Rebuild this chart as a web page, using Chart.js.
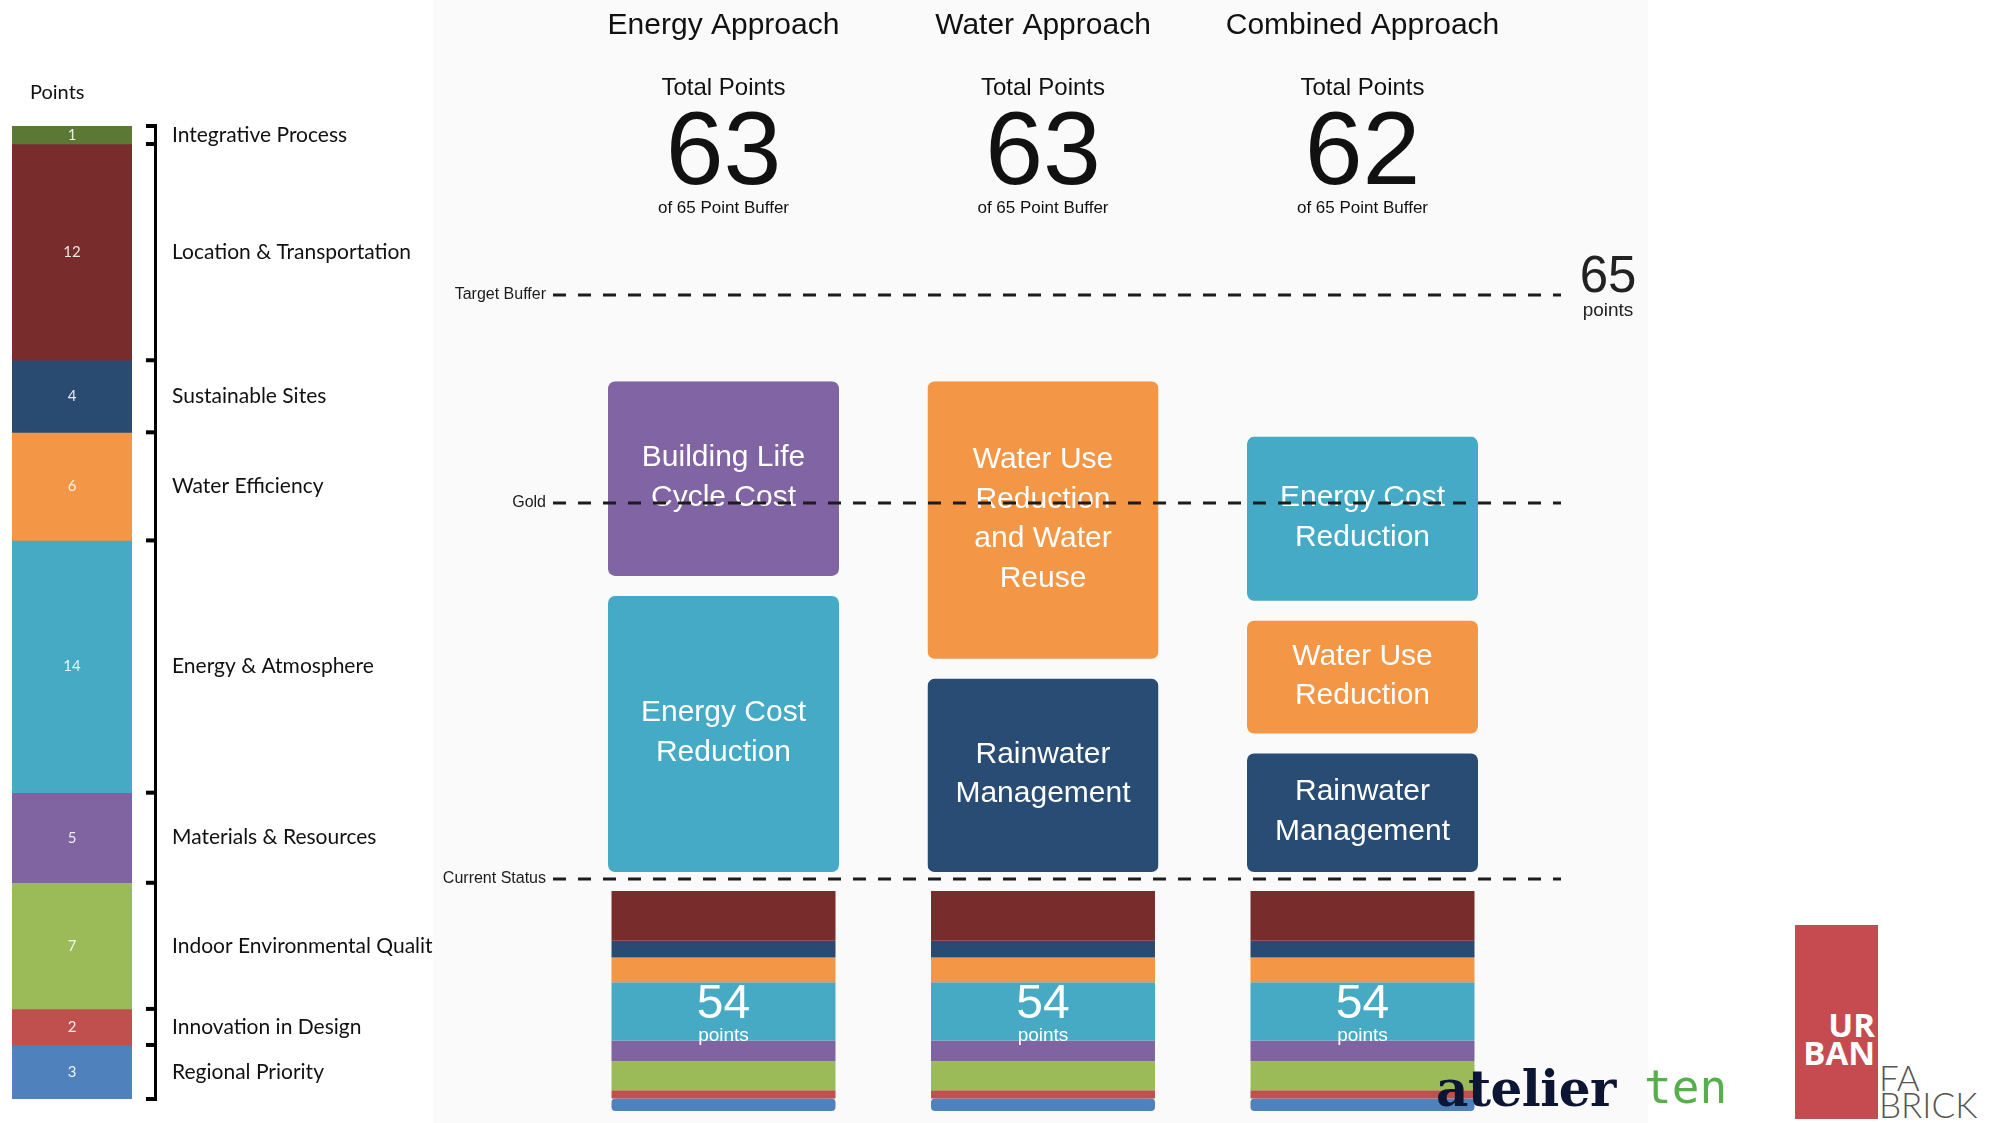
<!DOCTYPE html>
<html>
<head>
  <title>LEED Approaches</title>
  <script src="https://cdn.jsdelivr.net/npm/chart.js"></script>
  <style>
    body {
      margin: 0;
      width: 2003px;
      height: 1123px;
      background: #ffffff;
      position: relative;
      overflow: hidden;
      font-family: 'Liberation Sans', Arial, sans-serif;
    }
    .box { position: absolute; }
    #leftBox { left: 0; top: 0; width: 440px; height: 1123px; z-index: 1; }
    #panel { position: absolute; left: 433px; top: 0; width: 1215px; height: 1123px; background: #fafafa; z-index: 2; }
    #mainBox, #stackBox { left: 433px; top: 0; width: 1215px; height: 1123px; z-index: 3; }
    .logo { position: absolute; z-index: 5; white-space: nowrap; line-height: 1; }
    #atelier { left: 1436px; top: 1059px; font: bold 50px 'DejaVu Serif', serif; color: #0c1533; letter-spacing: -0.5px; }
    #ten { left: 1644px; top: 1060px; font: 46px 'DejaVu Sans Mono', monospace; color: #55b04c; letter-spacing: 0; }
    #urbanRect { left: 1795px; top: 925px; width: 83px; height: 194px; background: #c64b50; }
  </style>
</head>
<body>
  <div id="leftBox" class="box"><canvas id="leftChart"></canvas></div>
  <div id="panel"></div>
  <div id="mainBox" class="box"><canvas id="mainChart"></canvas></div>
  <div id="stackBox" class="box"><canvas id="stackChart"></canvas></div>

  <div id="atelier" class="logo">atelier</div>
  <div id="ten" class="logo">ten</div>
  <div id="urbanRect" class="logo"></div>
  <div class="logo" style="left:1795px; top:1002px; width:80px; text-align:right; font:bold 33px 'Open Sans', sans-serif; color:#fff;">UR</div>
  <div class="logo" style="left:1795px; top:1030px; width:80px; text-align:right; font:bold 33px 'Open Sans', sans-serif; color:#fff;">BAN</div>
  <div class="logo" style="left:1879px; top:1056px; font:300 35px Lato, sans-serif; color:#555;">FA</div>
  <div class="logo" style="left:1879px; top:1083px; font:300 35px Lato, sans-serif; color:#555;">BRICK</div>

  <script>
    // ---- data ----
    const categories = ['Integrative Process', 'Location & Transportation', 'Sustainable Sites',
      'Water Efficiency', 'Energy & Atmosphere', 'Materials & Resources',
      'Indoor Environmental Quality', 'Innovation in Design', 'Regional Priority'];
    const categoryPoints = [1, 12, 4, 6, 14, 5, 7, 2, 3];
    const categoryColors = ['#5b7934', '#782c2b', '#2a4b71', '#f39646', '#46aac5',
      '#8064a2', '#9bbb59', '#c0504d', '#4f81bd'];

    const approaches = ['Energy Approach', 'Water Approach', 'Combined Approach'];
    const totalPoints = [63, 63, 62];
    const bufferTarget = 65;
    const currentStatus = 54;

    // strategies stacked above current status, bottom to top
    const strategyNames = [
      ['Energy Cost\nReduction', 'Building Life\nCycle Cost'],
      ['Rainwater\nManagement', 'Water Use\nReduction\nand Water\nReuse'],
      ['Rainwater\nManagement', 'Water Use\nReduction', 'Energy Cost\nReduction']
    ];
    const strategyPoints = [
      [5.3, 3.7],
      [3.8, 5.2],
      [2.45, 2.4, 3.15]
    ];
    const strategyColors = [
      ['#44aac5', '#8064a3'],
      ['#284c73', '#f39646'],
      ['#284c73', '#f39646', '#44aac5']
    ];

    // dashed reference lines (positions as drawn in the schematic)
    const lineLabels = ['Target Buffer', 'Gold', 'Current Status'];
    const lineValues = [64.56, 60.8, 54];

    // ---- left stacked bar ----
    const leftPlugin = {
      id: 'leftLabels',
      afterDraw(chart) {
        const ctx = chart.ctx;
        ctx.save();
        ctx.fillStyle = '#111';
        ctx.font = '20px Lato, sans-serif';
        ctx.textBaseline = 'middle';
        ctx.textAlign = 'left';
        ctx.fillText('Points', 30, 93);

        const bounds = [];
        chart.data.datasets.forEach((ds, i) => {
          const el = chart.getDatasetMeta(i).data[0];
          const top = Math.min(el.y, el.base), bot = Math.max(el.y, el.base);
          const mid = (top + bot) / 2;
          if (i === 0) bounds.push(top);
          bounds.push(bot);
          ctx.fillStyle = 'rgba(255,255,255,0.88)';
          ctx.font = '15px Lato, sans-serif';
          ctx.textAlign = 'center';
          ctx.fillText(String(ds.data[0]), el.x, mid);
          ctx.fillStyle = '#111';
          ctx.font = '21px Lato, sans-serif';
          ctx.textAlign = 'left';
          ctx.fillText(ds.label, 172, mid);
        });

        // bracket
        ctx.strokeStyle = '#000';
        ctx.lineWidth = 3;
        ctx.beginPath();
        ctx.moveTo(155.5, bounds[0]);
        ctx.lineTo(155.5, bounds[bounds.length - 1]);
        ctx.stroke();
        ctx.lineWidth = 4;
        bounds.forEach(b => {
          ctx.beginPath();
          ctx.moveTo(146, b);
          ctx.lineTo(157, b);
          ctx.stroke();
        });
        ctx.restore();
      }
    };

    new Chart(document.getElementById('leftChart'), {
      type: 'bar',
      data: {
        labels: ['Points'],
        datasets: categories.map((c, i) => ({
          label: c,
          data: [categoryPoints[i]],
          backgroundColor: categoryColors[i],
          borderWidth: 0,
          barPercentage: 1,
          categoryPercentage: 1
        }))
      },
      options: {
        responsive: true,
        maintainAspectRatio: false,
        animation: false,
        layout: { padding: { left: 12, right: 308, top: 126, bottom: 24 } },
        plugins: { legend: { display: false }, tooltip: { enabled: false } },
        scales: {
          x: { stacked: true, display: false },
          y: { stacked: true, display: false, reverse: true, min: 0, max: 54 }
        }
      },
      plugins: [leftPlugin]
    });

    // ---- main schematic ----
    const PX_PER_PT = 55.3;
    const Y_MIN = 50, Y_MAX = 68;
    const statusPx = 879;
    const padTop = statusPx - (Y_MAX - currentStatus) * PX_PER_PT;
    const padBottom = 1123 - (statusPx + (currentStatus - Y_MIN) * PX_PER_PT);
    const padX = { left: 130.75, right: 125.75 };

    // transparent borders leave the gaps between boxes
    function gapFor(col, lvl) {
      const n = strategyPoints[col].length;
      return { top: lvl === n - 1 ? 0 : 10, bottom: lvl === 0 ? 7 : 10 };
    }

    const levels = Math.max(...strategyPoints.map(s => s.length));
    const mainDatasets = [];
    for (let l = 0; l < levels; l++) {
      mainDatasets.push({
        label: 'level ' + l,
        data: strategyPoints.map(s => {
          if (s[l] == null) return null;
          const start = currentStatus + s.slice(0, l).reduce((a, b) => a + b, 0);
          return [start, start + s[l]];
        }),
        names: strategyNames.map(s => s[l] || ''),
        backgroundColor: strategyColors.map(s => s[l] || 'transparent'),
        borderColor: 'rgba(0,0,0,0)',
        borderWidth: (c) => {
          const g = gapFor(c.dataIndex, c.datasetIndex);
          return { top: g.top, bottom: g.bottom, left: 0, right: 0 };
        },
        borderRadius: (c) => {
          const g = gapFor(c.dataIndex, c.datasetIndex);
          return { topLeft: g.top + 7, topRight: g.top + 7, bottomLeft: g.bottom + 7, bottomRight: g.bottom + 7 };
        },
        borderSkipped: false,
        grouped: false,
        barPercentage: 0.723,
        categoryPercentage: 1
      });
    }

    const mainPlugin = {
      id: 'mainLabels',
      afterDatasetsDraw(chart) {
        const ctx = chart.ctx;
        ctx.save();
        ctx.fillStyle = '#fff';
        ctx.font = '30px "Liberation Sans", Arial, sans-serif';
        ctx.textAlign = 'center';
        ctx.textBaseline = 'middle';
        chart.data.datasets.forEach((ds, i) => {
          chart.getDatasetMeta(i).data.forEach((el, j) => {
            const name = ds.names[j];
            if (!name) return;
            const g = gapFor(j, i);
            const lines = name.split('\n');
            const mid = (el.y + g.top + el.base - g.bottom) / 2 - 1;
            lines.forEach((t, k) => {
              ctx.fillText(t, el.x, mid + (k - (lines.length - 1) / 2) * 39.5);
            });
          });
        });
        ctx.restore();
      },
      afterDraw(chart) {
        const ctx = chart.ctx;
        const xs = chart.scales.x, ys = chart.scales.y;
        const off = 433;
        ctx.save();
        // headers
        ctx.fillStyle = '#111';
        ctx.textAlign = 'center';
        approaches.forEach((a, i) => {
          const cx = xs.getPixelForValue(i);
          ctx.textBaseline = 'middle';
          ctx.font = '30px "Liberation Sans", Arial, sans-serif';
          ctx.fillText(a, cx, 26);
          ctx.font = '24px "Liberation Sans", Arial, sans-serif';
          ctx.fillText('Total Points', cx, 88);
          ctx.font = '17px "Liberation Sans", Arial, sans-serif';
          ctx.fillText('of ' + bufferTarget + ' Point Buffer', cx, 208);
          ctx.textBaseline = 'alphabetic';
          ctx.font = '104px "Liberation Sans", Arial, sans-serif';
          ctx.fillText(String(totalPoints[i]), cx, 184);
        });

        // dashed lines
        ctx.strokeStyle = '#1c1c1c';
        ctx.lineWidth = 3;
        ctx.setLineDash([13, 12]);
        lineValues.forEach((v, i) => {
          const y = ys.getPixelForValue(v);
          ctx.beginPath();
          ctx.moveTo(553 - off, y);
          ctx.lineTo(1561 - off, y);
          ctx.stroke();
          ctx.fillStyle = '#1c1c1c';
          ctx.font = '16px "Liberation Sans", Arial, sans-serif';
          ctx.textAlign = 'right';
          ctx.textBaseline = 'middle';
          ctx.fillText(lineLabels[i], 546 - off, y);
        });
        ctx.setLineDash([]);

        // target label
        const ty = ys.getPixelForValue(lineValues[0]);
        ctx.textAlign = 'center';
        ctx.fillStyle = '#222';
        ctx.font = '51px "Liberation Sans", Arial, sans-serif';
        ctx.textBaseline = 'alphabetic';
        ctx.fillText(String(bufferTarget), 1608 - off, ty - 3);
        ctx.font = '19px "Liberation Sans", Arial, sans-serif';
        ctx.textBaseline = 'middle';
        ctx.fillText('points', 1608 - off, ty + 16);
        ctx.restore();
      }
    };

    new Chart(document.getElementById('mainChart'), {
      type: 'bar',
      data: { labels: approaches, datasets: mainDatasets },
      options: {
        responsive: true,
        maintainAspectRatio: false,
        animation: false,
        layout: { padding: { left: padX.left, right: padX.right, top: padTop, bottom: padBottom } },
        plugins: { legend: { display: false }, tooltip: { enabled: false } },
        scales: {
          x: { display: false },
          y: { display: false, min: Y_MIN, max: Y_MAX }
        }
      },
      plugins: [mainPlugin]
    });

    // ---- current status stacks ----
    const stackCats = categories.slice(1);
    const stackPts = categoryPoints.slice(1);
    const stackColors = categoryColors.slice(1);

    const stackPlugin = {
      id: 'stackLabels',
      afterDraw(chart) {
        const ctx = chart.ctx;
        const xs = chart.scales.x;
        ctx.save();
        ctx.fillStyle = '#fff';
        ctx.textAlign = 'center';
        approaches.forEach((a, i) => {
          const cx = xs.getPixelForValue(i);
          ctx.textBaseline = 'alphabetic';
          ctx.font = '48px "Liberation Sans", Arial, sans-serif';
          ctx.fillText(String(currentStatus), cx, 1018);
          ctx.textBaseline = 'middle';
          ctx.font = '19px "Liberation Sans", Arial, sans-serif';
          ctx.fillText('points', cx, 1036);
        });
        ctx.restore();
      }
    };

    new Chart(document.getElementById('stackChart'), {
      type: 'bar',
      data: {
        labels: approaches,
        datasets: stackCats.map((c, i) => ({
          label: c,
          data: approaches.map(() => stackPts[i]),
          backgroundColor: stackColors[i],
          borderWidth: 0,
          borderSkipped: false,
          borderRadius: 4,
          barPercentage: 0.701,
          categoryPercentage: 1
        }))
      },
      options: {
        responsive: true,
        maintainAspectRatio: false,
        animation: false,
        layout: { padding: { left: padX.left, right: padX.right, top: 891, bottom: 12 } },
        plugins: { legend: { display: false }, tooltip: { enabled: false } },
        scales: {
          x: { stacked: true, display: false },
          y: { stacked: true, display: false, reverse: true, min: 0, max: stackPts.reduce((a, b) => a + b, 0) }
        }
      },
      plugins: [stackPlugin]
    });
  </script>
</body>
</html>
